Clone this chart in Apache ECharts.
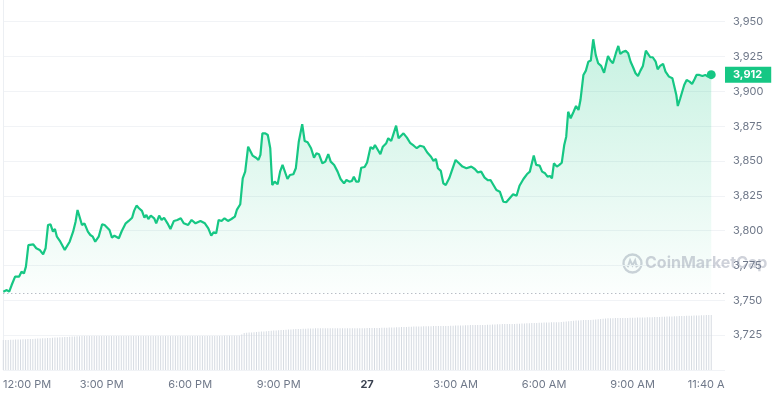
<!DOCTYPE html>
<html><head><meta charset="utf-8">
<script src="https://cdn.jsdelivr.net/npm/echarts@6/dist/echarts.min.js"></script>
<style>html,body{margin:0;padding:0;background:#fff}#c{width:773px;height:396px}</style>
</head><body><div id="c"></div>
<script>
// minutes since 11:40 AM (26th)
const times = [0,7,12,17,24,28,32,37,42,46,51,54,61,67,74,81,86,91,96,101,105,109,116,125,129,135,142,147,151,156,160,165,172,177,182,187,194,201,206,210,216,221,226,235,241,249,255,262,266,271,276,282,287,291,295,300,307,311,317,322,327,334,340,347,354,361,367,376,383,391,401,410,417,423,428,433,438,444,450,457,464,471,475,482,487,492,498,502,507,514,519,523,527,533,538,543,547,552,558,563,568,572,578,583,590,595,601,608,613,619,626,632,637,642,649,655,661,666,673,680,686,693,698,704,709,713,718,723,728,735,740,747,752,756,762,767,772,779,783,789,794,799,804,809,814,821,828,835,841,848,855,862,870,875,880,884,890,895,900,907,914,920,927,934,942,952,959,965,972,979,986,991,997,1003,1010,1017,1023,1030,1037,1044,1050,1058,1065,1071,1079,1084,1091,1096,1102,1107,1112,1116,1120,1126,1131,1136,1141,1145,1149,1154,1160,1165,1170,1174,1180,1185,1190,1195,1200,1205,1210,1216,1222,1226,1230,1235,1240,1246,1251,1255,1261,1266,1271,1276,1281,1286,1291,1296,1301,1307,1311,1316,1321,1327,1331,1336,1342,1347,1354,1361,1365,1369,1372,1377,1381,1385,1390,1396,1401,1406,1410,1416,1422,1428,1433,1440];
const prices = [3756.2,3757.4,3756.2,3761.0,3767.0,3768.2,3767.0,3770.6,3769.4,3774.2,3789.7,3791.0,3790.2,3787.4,3786.2,3783.1,3787.4,3804.1,3804.6,3799.3,3801.2,3795.7,3792.1,3786.2,3784.9,3792.1,3799.3,3806.5,3814.9,3808.9,3804.1,3805.3,3799.3,3796.9,3795.7,3792.1,3795.7,3804.6,3804.1,3805.3,3800.5,3795.0,3796.4,3794.6,3799.8,3805.3,3807.0,3809.3,3814.2,3818.0,3816.1,3814.2,3809.3,3811.3,3808.4,3810.8,3808.9,3805.3,3810.8,3807.7,3809.3,3805.3,3801.2,3807.0,3807.7,3808.9,3805.3,3804.1,3807.7,3805.3,3807.0,3805.3,3801.7,3796.4,3798.9,3798.1,3807.7,3807.0,3808.9,3807.0,3808.4,3810.1,3814.9,3819.0,3837.6,3842.4,3860.3,3861.0,3853.9,3852.4,3850.8,3854.4,3869.9,3869.9,3868.7,3859.2,3832.8,3835.2,3833.3,3842.4,3847.2,3846.0,3837.1,3840.0,3840.5,3844.8,3863.9,3876.4,3864.4,3863.5,3859.2,3852.4,3855.6,3854.9,3848.4,3849.6,3854.9,3849.6,3847.2,3842.4,3837.1,3834.0,3836.4,3835.2,3835.7,3838.8,3835.2,3835.2,3845.2,3845.7,3849.0,3860.0,3858.7,3861.5,3857.9,3854.9,3860.3,3862.8,3866.4,3864.4,3869.9,3875.4,3866.4,3868.2,3869.9,3866.8,3862.8,3861.0,3859.2,3861.0,3860.3,3856.3,3853.1,3850.1,3851.5,3844.8,3842.9,3834.0,3832.8,3837.6,3844.8,3850.8,3848.4,3846.0,3844.8,3846.0,3844.3,3841.9,3842.4,3838.1,3836.2,3836.4,3832.8,3829.2,3828.0,3820.8,3820.4,3823.3,3826.1,3825.1,3832.3,3837.1,3840.5,3842.4,3853.9,3847.2,3846.7,3842.4,3841.2,3838.8,3839.3,3837.6,3848.4,3846.0,3847.2,3848.8,3861.5,3867.5,3885.4,3880.7,3885.4,3889.5,3886.7,3893.8,3911.8,3914.9,3921.3,3922.1,3937.4,3926.2,3920.2,3918.3,3913.4,3913.4,3925.4,3922.1,3920.2,3927.4,3932.6,3926.9,3928.5,3929.2,3927.4,3921.3,3917.3,3913.0,3911.1,3914.9,3918.3,3929.2,3930.3,3924.5,3924.5,3921.3,3915.9,3918.3,3919.7,3914.2,3910.6,3909.4,3908.2,3897.4,3889.5,3895.1,3895.1,3904.6,3908.2,3907.0,3905.3,3908.7,3911.8,3911.8,3911.1,3911.8,3910.6,3912.0];
// volume bars, one every 5 minutes (relative units)
const volume = [
30.0,30.0,30.1,30.2,30.3,30.4,30.5,30.6,30.7,30.8,30.9,31.0,
31.1,31.2,31.4,31.5,31.7,31.8,32.0,32.1,32.3,32.4,32.6,32.7,
32.8,33.0,33.1,33.3,33.4,33.6,33.7,33.8,33.9,34.0,34.0,34.0,
34.0,34.0,34.0,34.0,34.0,34.0,34.0,34.0,34.0,34.0,34.0,34.0,
34.0,34.0,34.1,34.1,34.1,34.1,34.1,34.1,34.1,34.1,34.1,34.1,
34.1,34.1,34.1,34.1,34.1,34.1,34.1,34.1,34.1,34.1,34.1,34.1,
34.1,34.1,34.1,34.1,34.1,34.1,34.1,34.1,34.1,34.1,34.1,34.1,
34.1,34.1,34.1,34.1,34.1,34.1,34.2,34.2,34.2,34.2,34.2,34.2,
34.2,35.5,37.0,37.2,37.4,37.6,37.8,38.0,38.2,38.4,38.6,38.8,
39.0,39.2,39.4,39.6,39.7,39.9,40.0,40.2,40.4,40.6,40.8,41.0,
41.0,41.1,41.2,41.3,41.4,41.5,41.6,41.7,41.7,41.7,41.7,41.7,
41.7,41.7,41.7,41.7,41.7,41.7,41.7,41.7,41.7,41.7,41.7,41.7,
41.7,41.7,41.8,41.8,41.9,41.9,42.0,42.0,42.1,42.1,42.2,42.2,
42.3,42.4,42.5,42.6,42.7,42.8,42.9,43.0,43.1,43.2,43.3,43.4,
43.5,43.6,43.6,43.7,43.7,43.8,43.8,43.9,43.9,44.0,44.0,44.0,
44.0,44.1,44.2,44.3,44.4,44.4,44.5,44.6,44.7,44.8,44.9,44.9,
45.0,45.0,45.0,45.0,45.1,45.2,45.3,45.5,45.6,45.7,45.8,45.9,
46.0,46.0,46.0,46.1,46.1,46.2,46.3,46.4,46.5,46.7,46.8,47.0,
47.0,47.1,47.2,47.3,47.4,47.5,47.6,47.7,47.7,47.7,47.8,47.9,
48.2,48.5,48.8,49.0,49.2,49.4,49.6,49.8,50.0,50.0,50.0,50.1,
50.2,50.5,50.8,51.0,51.3,51.5,51.7,51.7,51.8,51.9,52.0,52.0,
52.0,52.1,52.1,52.2,52.3,52.3,52.4,52.5,52.5,52.6,52.7,52.7,
52.8,52.9,53.0,53.1,53.2,53.3,53.4,53.5,53.6,53.7,53.8,53.9,
54.0,54.1,54.2,54.3,54.3,54.4,54.5,54.6,54.7,54.8,54.9,55.0,
55.0];
const volStepMin = 5;
const openPrice = 3755.1;
const xTickValues = [20,200,380,560,740,920,1100,1280,1440];
const xTickLabels = ['12:00 PM','3:00 PM','6:00 PM','9:00 PM','27','3:00 AM','6:00 AM','9:00 AM','11:40 AM'];
const yMin = 3700, yMax = 3965.6, yStep = 25;

const green = '#16c784';
const labelColor = '#6f7889';
const chart = echarts.init(document.getElementById('c'), null, {renderer:'canvas'});
const lineData = times.map((t, i) => [t, prices[i]]);
const volData = volume.map((v, i) => [i * volStepMin, v]);
const last = lineData[lineData.length - 1];

chart.setOption({
  animation: false,
  backgroundColor: '#fff',
  textStyle: { fontFamily: 'Inter' },
  grid: { left: 0, right: 48, top: 0, bottom: 26 },
  xAxis: {
    type: 'value', min: 0, max: 1468,
    axisLine: { show: false }, axisTick: { show: false }, splitLine: { show: false },
    axisLabel: {
      customValues: xTickValues, color: labelColor, fontSize: 11, margin: 9, fontFamily: 'Inter',
      formatter: function (v) {
        const i = xTickValues.indexOf(v);
        const s = xTickLabels[i];
        if (i === 0) return '{first|' + s + '}';
        if (s === '27') return '{day|' + s + '}';
        return s;
      },
      rich: {
        first: { padding: [0, 0, 0, 28], fontSize: 11, color: labelColor, fontFamily: 'Inter' },
        day: { fontWeight: 'bold', color: '#3a4150', fontSize: 11, fontFamily: 'Inter' }
      }
    }
  },
  yAxis: [{
    type: 'value', position: 'right', min: yMin, max: yMax, interval: yStep,
    axisLine: { show: true, lineStyle: { color: '#eceff3' } },
    axisTick: { show: false },
    splitLine: { show: true, showMaxLine: false, lineStyle: { color: '#f1f3f6' } },
    axisLabel: {
      showMinLabel: false, showMaxLabel: false, margin: 8, color: labelColor, fontSize: 11, fontFamily: 'Inter',
      formatter: v => v.toLocaleString('en-US')
    }
  }, {
    type: 'value', min: 0, max: 370, show: false
  }],
  series: [{
    type: 'bar', yAxisIndex: 1, data: volData, barWidth: 1, silent: true,
    itemStyle: { color: '#d6dbe2' }, z: 1
  }, {
    type: 'line', data: lineData, showSymbol: false, silent: true, z: 3,
    lineStyle: { color: green, width: 2.2 }, itemStyle: { color: green },
    areaStyle: {
      origin: openPrice,
      color: new echarts.graphic.LinearGradient(0, 0, 0, 1, [
        { offset: 0, color: 'rgba(22,199,132,0.34)' },
        { offset: 1, color: 'rgba(22,199,132,0.02)' }
      ])
    },
    markLine: {
      silent: true, symbol: ['none', 'none'],
      data: [
        { yAxis: openPrice, lineStyle: { type: [1, 3], color: '#9aa1ad', width: 1 }, label: { show: false } },
        { yAxis: last[1], lineStyle: { color: 'rgba(0,0,0,0)', width: 0 },
          label: { show: true, position: 'end', distance: 0, formatter: () => last[1].toLocaleString('en-US', {maximumFractionDigits: 0}),
            backgroundColor: green, color: '#fff', fontWeight: 'bold', fontSize: 11, fontFamily: 'Inter', padding: [3, 9, 2, 8] } }
      ]
    },
    markPoint: {
      silent: true, symbol: 'circle', symbolSize: 9, itemStyle: { color: green }, label: { show: false },
      data: [{ coord: last }]
    }
  }],
  graphic: [
    { type: 'rect', right: 0, bottom: 0, shape: { width: 48, height: 22 }, style: { fill: '#fff' }, z: 100 },
    { type: 'group', left: 621, top: 252, z: 50, children: [
      { type: 'circle', shape: { cx: 10, cy: 10, r: 9 }, style: { fill: 'none', stroke: 'rgba(128,138,157,0.38)', lineWidth: 2.3 } },
      { type: 'polyline', shape: { points: [[5.2, 13.8], [7.6, 6.8], [10, 12], [12.6, 6.8], [14, 12.8], [15.8, 11.6]] }, style: { fill: 'none', stroke: 'rgba(128,138,157,0.38)', lineWidth: 2 } }
    ]},
    { type: 'text', left: 645, top: 255, z: 50, style: { text: 'CoinMarketCap', font: 'bold 16px Inter', fill: 'rgba(128,138,157,0.38)' } }
  ]
});
</script>
</body></html>
